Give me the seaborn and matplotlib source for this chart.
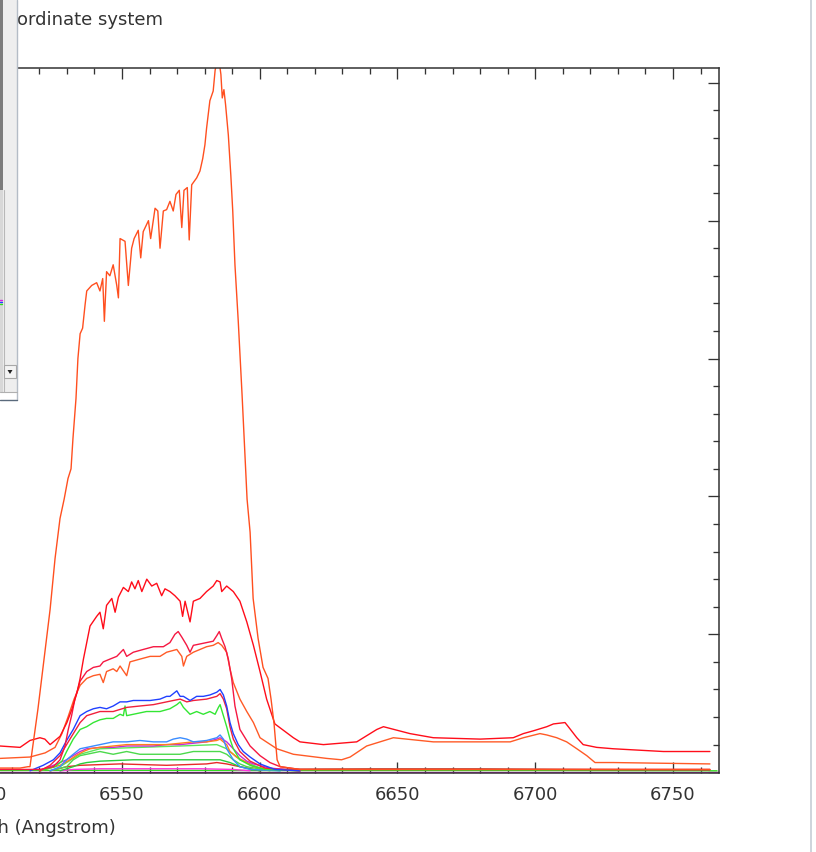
import numpy as np
import pandas as pd
import matplotlib
matplotlib.use("Agg")
import matplotlib.pyplot as plt
from matplotlib.ticker import MultipleLocator
from matplotlib.patches import Rectangle, Polygon
from matplotlib.lines import Line2D
import seaborn as sns

# ---------------- data (wavelength in Angstrom, flux in arbitrary units) ----------------
A_wave = [6505.7, 6513.0, 6515.9, 6516.6, 6517.7, 6519.5, 6521.7, 6523.9, 6525.7, 6527.5,
          6529.0, 6530.4, 6531.5, 6532.2, 6533.3, 6534.0, 6534.8, 6535.7, 6536.6, 6537.2,
          6539.0, 6540.8, 6542.0, 6543.0, 6543.6, 6544.4, 6545.6, 6546.8, 6548.1, 6548.7,
          6549.3, 6551.1, 6552.3, 6553.5, 6554.4, 6555.9, 6556.8, 6557.7, 6559.6, 6560.4,
          6562.0, 6563.0, 6563.8, 6565.0, 6566.2, 6567.4, 6568.6, 6569.6, 6570.8, 6571.7,
          6572.5, 6573.7, 6574.4, 6575.3, 6577.1, 6578.3, 6579.3, 6580.1, 6580.7, 6581.9,
          6583.1, 6583.8, 6584.4, 6585.3, 6585.9, 6586.4, 6587.0, 6587.6, 6588.6, 6589.5,
          6590.2, 6591.0, 6592.2, 6593.6, 6595.4, 6596.5, 6597.6, 6599.4, 6601.2, 6603.0,
          6604.1, 6605.2, 6606.3, 6607.4, 6614.6, 6650.9, 6687.2, 6723.5, 6763.4]
A_flux = [0.03, 0.03, 0.04, 0.04, 0.20, 0.46, 0.82, 1.18, 1.55, 1.84,
          1.98, 2.13, 2.20, 2.42, 2.71, 3.00, 3.18, 3.22, 3.39, 3.49,
          3.53, 3.55, 3.49, 3.58, 3.27, 3.63, 3.60, 3.68, 3.53, 3.44,
          3.87, 3.85, 3.53, 3.80, 3.87, 3.93, 3.73, 3.92, 4.00, 3.87,
          4.09, 4.07, 3.80, 4.07, 4.08, 4.14, 4.07, 4.19, 4.22, 3.95,
          4.22, 4.24, 3.86, 4.26, 4.31, 4.36, 4.45, 4.55, 4.67, 4.87,
          4.94, 5.09, 5.15, 5.15, 5.06, 4.89, 4.95, 4.84, 4.62, 4.33,
          4.07, 3.68, 3.27, 2.73, 1.98, 1.74, 1.26, 0.97, 0.76, 0.68,
          0.53, 0.35, 0.09, 0.04, 0.02, 0.02, 0.02, 0.02, 0.02]

B_wave = [6505.7, 6513.0, 6516.6, 6520.2, 6522.0, 6523.9, 6527.5, 6530.0, 6531.9, 6533.7,
          6534.8, 6536.0, 6538.4, 6540.8, 6542.0, 6543.2, 6544.4, 6546.3, 6547.5, 6548.7,
          6550.5, 6552.3, 6553.5, 6554.7, 6555.9, 6557.2, 6559.0, 6560.8, 6562.6, 6564.4,
          6565.6, 6567.4, 6569.2, 6571.1, 6572.0, 6572.9, 6574.7, 6575.9, 6578.3, 6580.7,
          6583.1, 6584.4, 6585.6, 6586.2, 6588.0, 6590.4, 6592.8, 6595.3, 6597.7, 6600.1,
          6602.5, 6605.5, 6612.2, 6614.6, 6623.1, 6635.2, 6642.5, 6644.9, 6654.5, 6663.0,
          6680.0, 6692.0, 6695.7, 6699.3, 6704.2, 6706.6, 6710.8, 6712.0, 6715.1, 6717.4,
          6722.3, 6728.3, 6746.5, 6763.4]
B_flux = [0.19, 0.18, 0.23, 0.25, 0.24, 0.20, 0.26, 0.36, 0.46, 0.58,
          0.68, 0.82, 1.06, 1.13, 1.16, 1.04, 1.21, 1.26, 1.16, 1.27,
          1.34, 1.31, 1.38, 1.33, 1.39, 1.31, 1.40, 1.35, 1.37, 1.28,
          1.33, 1.31, 1.28, 1.24, 1.13, 1.24, 1.09, 1.24, 1.26, 1.31,
          1.35, 1.39, 1.38, 1.31, 1.35, 1.31, 1.24, 1.09, 0.92, 0.73,
          0.53, 0.35, 0.25, 0.22, 0.20, 0.22, 0.31, 0.33, 0.28, 0.25,
          0.24, 0.25, 0.28, 0.30, 0.33, 0.35, 0.36, 0.33, 0.25, 0.20,
          0.18, 0.17, 0.15, 0.15]

C_wave = [6505.7, 6520.2, 6525.1, 6527.5, 6529.3, 6530.5, 6531.7, 6532.9, 6534.8, 6537.2,
          6539.6, 6542.0, 6543.2, 6545.6, 6548.1, 6550.5, 6551.7, 6554.1, 6557.7, 6561.4,
          6565.0, 6567.4, 6569.2, 6570.4, 6571.7, 6573.5, 6574.7, 6575.9, 6578.3, 6580.7,
          6583.1, 6584.4, 6585.3, 6586.2, 6587.4, 6588.6, 6589.8, 6591.0, 6592.8, 6596.5,
          6600.1, 6603.7, 6607.4, 6614.6, 6763.4]
C_flux = [0.02, 0.02, 0.04, 0.09, 0.19, 0.31, 0.41, 0.53, 0.66, 0.73,
          0.76, 0.77, 0.80, 0.82, 0.84, 0.89, 0.84, 0.87, 0.89, 0.91,
          0.91, 0.94, 1.00, 1.02, 0.98, 0.92, 0.87, 0.92, 0.93, 0.94,
          0.95, 0.99, 1.02, 0.97, 0.91, 0.82, 0.68, 0.48, 0.31, 0.19,
          0.12, 0.07, 0.04, 0.02, 0.02]

D_wave = [6505.7, 6516.6, 6522.1, 6525.7, 6528.2, 6530.4, 6532.6, 6534.8, 6537.2, 6539.6,
          6542.0, 6543.2, 6544.4, 6546.8, 6548.1, 6549.3, 6551.7, 6552.9, 6556.5, 6560.2,
          6563.8, 6566.2, 6569.9, 6571.7, 6572.3, 6573.5, 6575.9, 6578.3, 6580.7, 6583.1,
          6584.9, 6586.2, 6588.0, 6589.2, 6590.4, 6592.8, 6595.3, 6597.7, 6600.1, 6606.2,
          6612.2, 6624.3, 6629.7, 6632.8, 6638.8, 6648.5, 6653.3, 6663.0, 6683.6, 6690.9,
          6695.7, 6701.7, 6704.2, 6707.8, 6711.4, 6715.1, 6718.7, 6721.7, 6728.3, 6763.4]
D_flux = [0.10, 0.11, 0.14, 0.18, 0.28, 0.40, 0.53, 0.63, 0.68, 0.70,
          0.71, 0.65, 0.73, 0.75, 0.73, 0.77, 0.70, 0.80, 0.82, 0.84,
          0.84, 0.87, 0.89, 0.84, 0.77, 0.84, 0.87, 0.89, 0.91, 0.92,
          0.94, 0.92, 0.87, 0.75, 0.65, 0.53, 0.44, 0.36, 0.25, 0.17,
          0.13, 0.10, 0.09, 0.11, 0.19, 0.25, 0.24, 0.22, 0.22, 0.22,
          0.25, 0.28, 0.27, 0.25, 0.22, 0.17, 0.12, 0.07, 0.07, 0.06]

E_wave = [6516.6, 6521.4, 6525.1, 6527.5, 6529.9, 6532.3, 6534.8, 6537.2, 6539.6, 6542.0,
          6544.4, 6546.8, 6549.3, 6551.7, 6554.1, 6556.5, 6560.2, 6563.8, 6566.2, 6567.4,
          6569.9, 6571.1, 6572.3, 6574.7, 6577.1, 6579.5, 6581.9, 6584.4, 6585.6, 6586.8,
          6588.0, 6589.2, 6590.4, 6592.2, 6594.0, 6596.5, 6600.1, 6605.5, 6614.6]
E_flux = [0.01, 0.05, 0.09, 0.14, 0.23, 0.31, 0.41, 0.44, 0.46, 0.47,
          0.46, 0.48, 0.51, 0.51, 0.52, 0.52, 0.52, 0.53, 0.55, 0.55,
          0.59, 0.55, 0.55, 0.52, 0.55, 0.55, 0.56, 0.58, 0.60, 0.56,
          0.48, 0.36, 0.28, 0.20, 0.15, 0.11, 0.06, 0.02, 0.01]

F_wave = [6520.2, 6523.9, 6527.5, 6531.1, 6534.8, 6537.2, 6542.0, 6546.8, 6551.7, 6556.5,
          6561.4, 6566.2, 6568.6, 6571.1, 6573.5, 6575.9, 6580.7, 6584.4, 6585.6, 6586.8,
          6588.0, 6589.2, 6590.4, 6592.8, 6596.5, 6601.9, 6614.6]
F_flux = [0.01, 0.05, 0.12, 0.24, 0.36, 0.41, 0.44, 0.44, 0.47, 0.48,
          0.49, 0.51, 0.52, 0.53, 0.51, 0.52, 0.53, 0.55, 0.57, 0.53,
          0.46, 0.33, 0.24, 0.15, 0.08, 0.03, 0.01]

G_wave = [6520.2, 6525.7, 6528.2, 6529.9, 6532.3, 6534.8, 6537.2, 6539.6, 6542.0, 6544.4,
          6546.8, 6549.3, 6550.5, 6551.1, 6551.7, 6554.1, 6558.9, 6563.8, 6567.4, 6569.9,
          6571.1, 6572.3, 6574.7, 6577.1, 6579.5, 6581.9, 6583.8, 6585.0, 6585.6, 6586.8,
          6588.0, 6589.2, 6590.4, 6592.8, 6596.5, 6601.9, 6614.6]
G_flux = [0.01, 0.04, 0.08, 0.15, 0.24, 0.31, 0.33, 0.36, 0.38, 0.39,
          0.39, 0.42, 0.41, 0.48, 0.41, 0.42, 0.44, 0.44, 0.46, 0.49,
          0.51, 0.47, 0.42, 0.44, 0.42, 0.44, 0.42, 0.47, 0.49, 0.41,
          0.33, 0.24, 0.17, 0.09, 0.05, 0.02, 0.01]

H_wave = [6523.9, 6527.5, 6529.9, 6532.3, 6534.8, 6537.2, 6542.0, 6546.8, 6551.7, 6556.5,
          6561.4, 6566.2, 6568.6, 6571.1, 6573.5, 6575.9, 6580.7, 6584.4, 6585.6, 6586.8,
          6588.0, 6590.4, 6592.8, 6596.5, 6607.4]
H_flux = [0.01, 0.04, 0.09, 0.13, 0.17, 0.18, 0.20, 0.22, 0.22, 0.23,
          0.22, 0.22, 0.24, 0.25, 0.24, 0.22, 0.23, 0.25, 0.27, 0.24,
          0.17, 0.09, 0.04, 0.02, 0.01]

I_wave = [6520.2, 6527.5, 6531.1, 6533.3, 6536.0, 6538.4, 6542.0, 6546.8, 6551.7, 6556.5,
          6561.4, 6566.2, 6571.1, 6575.9, 6580.7, 6584.4, 6585.6, 6588.0, 6589.2, 6591.6,
          6595.3, 6597.7, 6603.7, 6614.6]
I_flux = [0.01, 0.05, 0.09, 0.12, 0.15, 0.17, 0.18, 0.19, 0.20, 0.20,
          0.20, 0.20, 0.21, 0.22, 0.22, 0.23, 0.24, 0.20, 0.15, 0.11,
          0.07, 0.04, 0.02, 0.01]

J_wave = [6520.2, 6527.5, 6529.9, 6532.3, 6534.8, 6537.2, 6542.0, 6546.8, 6551.7, 6556.5,
          6561.4, 6566.2, 6571.1, 6575.9, 6580.7, 6584.4, 6585.6, 6588.0, 6590.4, 6592.8,
          6595.3, 6597.7, 6603.7, 6614.6]
J_flux = [0.01, 0.07, 0.09, 0.12, 0.15, 0.17, 0.18, 0.18, 0.19, 0.19,
          0.19, 0.20, 0.20, 0.21, 0.22, 0.24, 0.25, 0.22, 0.17, 0.12,
          0.08, 0.06, 0.03, 0.01]

K_wave = [6523.9, 6529.9, 6532.3, 6534.8, 6537.2, 6542.0, 6546.8, 6551.7, 6556.5, 6561.4,
          6566.2, 6571.1, 6575.9, 6580.7, 6585.6, 6588.0, 6590.4, 6592.8, 6595.3, 6603.7]
K_flux = [0.01, 0.04, 0.09, 0.12, 0.13, 0.15, 0.13, 0.15, 0.13, 0.13,
          0.13, 0.13, 0.15, 0.15, 0.15, 0.13, 0.09, 0.06, 0.04, 0.01]

L_wave = [6527.5, 6532.3, 6534.8, 6537.2, 6542.0, 6554.1, 6566.2, 6578.3, 6585.6, 6589.2,
          6592.8, 6600.1]
L_flux = [0.01, 0.04, 0.06, 0.07, 0.08, 0.09, 0.09, 0.09, 0.09, 0.07, 0.04, 0.01]

P_wave = [6527.5, 6534.8, 6542.0, 6556.5, 6571.1, 6584.4, 6588.0, 6592.8, 6600.1, 6607.4]
P_flux = [0.04, 0.13, 0.17, 0.18, 0.19, 0.20, 0.17, 0.09, 0.03, 0.01]

N_wave = [6523.9, 6529.9, 6534.8, 6549.3, 6566.2, 6580.7, 6584.4, 6588.0, 6590.4, 6592.8, 6600.1]
N_flux = [0.01, 0.04, 0.05, 0.06, 0.05, 0.06, 0.07, 0.06, 0.05, 0.04, 0.01]

O_wave = [6527.5, 6532.3, 6542.0, 6578.3, 6590.4, 6596.5]
O_flux = [0.01, 0.02, 0.025, 0.025, 0.02, 0.01]

Q_wave = [6505.7, 6550.0, 6600.0, 6650.0, 6700.0, 6766.0]
Q_flux = [0.012, 0.014, 0.012, 0.012, 0.012, 0.010]

R_wave = [6600.0, 6640.0, 6680.0, 6710.0, 6763.4]
R_flux = [0.020, 0.024, 0.024, 0.020, 0.016]

S_wave = [6505.7, 6600.0, 6700.0, 6766.0]
S_flux = [0.004, 0.004, 0.004, 0.004]

series = {
    "S": (S_wave, S_flux), "Q": (Q_wave, Q_flux), "R": (R_wave, R_flux),
    "O": (O_wave, O_flux), "N": (N_wave, N_flux), "L": (L_wave, L_flux),
    "K": (K_wave, K_flux), "P": (P_wave, P_flux), "J": (J_wave, J_flux),
    "I": (I_wave, I_flux), "H": (H_wave, H_flux), "G": (G_wave, G_flux),
    "F": (F_wave, F_flux), "E": (E_wave, E_flux), "D": (D_wave, D_flux),
    "C": (C_wave, C_flux), "B": (B_wave, B_flux), "A": (A_wave, A_flux),
}
palette = {
    "A": "#ff4f1f", "B": "#ff0d1a", "C": "#f51842", "D": "#ff5a26",
    "E": "#2040ff", "F": "#f0203c", "G": "#33e633", "H": "#3a8cff",
    "I": "#ff7f1a", "J": "#c82ad8", "K": "#4cd94c", "L": "#28cc3c",
    "P": "#5ae65a", "N": "#e82828", "O": "#ff33dd", "Q": "#33dd22",
    "R": "#a0522d", "S": "#ee11ee",
}

rows = []
for name, (w, f) in series.items():
    for wv, fl in zip(w, f):
        rows.append((name, wv, fl))
df = pd.DataFrame(rows, columns=["spectrum", "wavelength", "flux"])

# ---------------- figure ----------------
sns.set_style("white")
plt.rcParams["font.family"] = ["DejaVu Sans"]

W, H = 816, 852
fig = plt.figure(figsize=(W / 100, H / 100), dpi=100)
fig.patch.set_facecolor("white")

def fx(px):
    return px / W

def fy(py):
    return 1 - py / H

ax = fig.add_axes([fx(-98.4), fy(773.3), fx(719) - fx(-98.4), fy(68) - fy(773.3)])

sns.lineplot(data=df, x="wavelength", y="flux", hue="spectrum",
             hue_order=list(series.keys()), palette=palette,
             estimator=None, sort=False, legend=False, linewidth=1.0, ax=ax)

ax.set_xlim(6470, 6766.7)
ax.set_ylim(-0.008, 5.107)

ax.xaxis.set_major_locator(MultipleLocator(50))
ax.xaxis.set_minor_locator(MultipleLocator(10))
ax.yaxis.set_major_locator(MultipleLocator(1))
ax.yaxis.set_minor_locator(MultipleLocator(0.2))
ax.xaxis.set_major_formatter(plt.FuncFormatter(lambda v, p: f"{v:.0f}"))

ax.tick_params(which="both", direction="in", top=True, right=True, bottom=True, left=True,
               labelleft=False, color="#333333", width=0.95)
ax.tick_params(which="major", length=7.7, labelsize=13, labelcolor="#333333", pad=9.5)
ax.tick_params(which="minor", length=4.0)

for sp in ax.spines.values():
    sp.set_visible(True)
    sp.set_color("#333333")
    sp.set_linewidth(1.1)

ax.set_ylabel("")
ax.set_xlabel("Wavelength (Angstrom)", fontsize=13, color="#333333")
ax.xaxis.set_label_coords((115.5 + 98.4) / (719 + 98.4), (852 - 828 - 78.7) / 705.3)
ax.xaxis.label.set_ha("right")
ax.xaxis.label.set_va("center")

fig.text(fx(17), fy(20), "ordinate system", fontsize=13, color="#333333",
         ha="left", va="center")

# ---------------- window chrome (left side panel, right border) ----------------
tf = fig.transFigure
fig.add_artist(Rectangle((fx(0), fy(392)), fx(17), fy(0) - fy(392), transform=tf,
                         facecolor="#eeeeee", edgecolor="none", zorder=5))
fig.add_artist(Rectangle((fx(0), fy(190)), fx(3), fy(0) - fy(190), transform=tf,
                         facecolor="#7c7c7c", edgecolor="none", zorder=6))
fig.add_artist(Rectangle((fx(0), fy(392)), fx(3), fy(190) - fy(392), transform=tf,
                         facecolor="#d8d8d8", edgecolor="none", zorder=6))
fig.add_artist(Line2D([fx(16.5), fx(16.5)], [fy(0), fy(400)], transform=tf,
                      color="#b4bcc6", linewidth=1.0, zorder=7))
fig.add_artist(Line2D([fx(3.5), fx(3.5)], [fy(190), fy(392)], transform=tf,
                      color="#b8b8b8", linewidth=0.8, zorder=7))
fig.add_artist(Rectangle((fx(4), fy(378)), fx(12), fy(365) - fy(378), transform=tf,
                         facecolor="#f4f4f4", edgecolor="#a8a8a8", linewidth=0.8, zorder=7))
fig.add_artist(Polygon([(fx(7.5), fy(370)), (fx(12.5), fy(370)), (fx(10), fy(374))],
                       closed=True, transform=tf, facecolor="#222222", edgecolor="none", zorder=8))
fig.add_artist(Line2D([fx(0), fx(17)], [fy(392), fy(392)], transform=tf,
                      color="#b0b0b0", linewidth=0.8, zorder=7))
fig.add_artist(Rectangle((fx(0), fy(399)), fx(17), fy(392) - fy(399), transform=tf,
                         facecolor="#ffffff", edgecolor="none", zorder=6))
fig.add_artist(Line2D([fx(0), fx(17)], [fy(400), fy(400)], transform=tf,
                      color="#5a6a7c", linewidth=1.0, zorder=7))
for c, yy in (("#e020e0", 300), ("#2040ff", 302), ("#33dd22", 304)):
    fig.add_artist(Line2D([fx(0), fx(2)], [fy(yy), fy(yy)], transform=tf,
                          color=c, linewidth=1.0, zorder=8))

fig.add_artist(Line2D([fx(810.5), fx(810.5)], [0, 1], transform=tf,
                      color="#c6cdd5", linewidth=1.2, zorder=7))

fig.savefig("out.png", dpi=100)
